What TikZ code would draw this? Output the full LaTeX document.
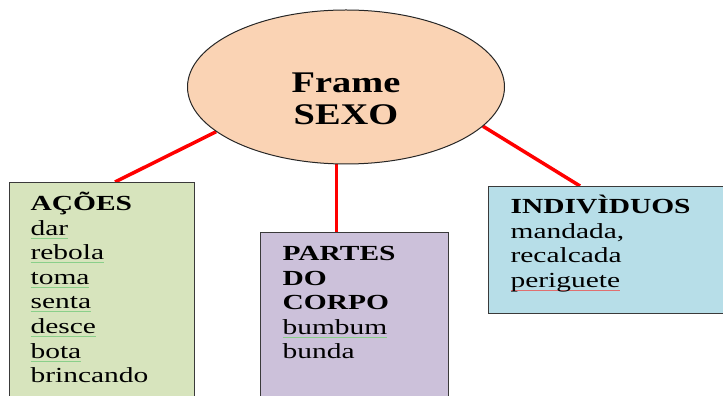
\documentclass[tikz,border=0pt]{standalone}
\usepackage{fontspec}
\setmainfont{Liberation Serif}[FakeStretch=1.37]
\newfontfamily\ellfont{Liberation Serif}[FakeStretch=1.28]
\usetikzlibrary{shapes.geometric,backgrounds}
\definecolor{peach}{HTML}{FAD3B4}
\definecolor{boxgreen}{HTML}{D7E4BD}
\definecolor{boxlilac}{HTML}{CCC1DA}
\definecolor{boxblue}{HTML}{B7DEE8}
\definecolor{sqgreen}{HTML}{8ACF8A}
\definecolor{sqred}{HTML}{E07070}
\definecolor{edgegray}{HTML}{3A3A3A}
\newsavebox\sqbox
\newcommand\sqline[2]{\leavevmode\sbox\sqbox{#2}\rlap{\textcolor{#1}{\rule[-3.4pt]{\wd\sqbox}{0.9pt}}}\usebox\sqbox}
\newcommand\sqg[1]{\sqline{sqgreen}{#1}}
\newcommand\sqr[1]{\sqline{sqred}{#1}}
\begin{document}
\begin{tikzpicture}[x=1pt,y=1pt,
  framebox/.style={draw=edgegray, line width=1.2pt, rectangle, anchor=north west,
    inner ysep=0pt, align=left, font=\fontsize{21.5}{24.6}\selectfont},
  link/.style={red, line width=3.5pt}]
\useasboundingbox (0,0) rectangle (723,396);
\node[ellipse, draw=black!85, line width=1pt, fill=peach, minimum width=317pt,
  minimum height=154pt, inner sep=0pt, align=center,
  font=\ellfont\bfseries\fontsize{30}{32}\selectfont] (ell) at (346,309)
  {\rule{0pt}{44pt}Frame\\SEXO};
\node[framebox, fill=boxgreen, inner xsep=21pt, text width=143pt] (acoes) at (9,214)
  {\rule{0pt}{28pt}\textbf{AÇÕES}\\
   \sqg{dar}\\
   \sqg{rebola}\\
   \sqg{toma}\\
   \sqg{senta}\\
   \sqg{desce}\\
   \sqg{bota}\\
   brincando\rule[-20pt]{0pt}{20pt}};
\node[framebox, fill=boxlilac, inner xsep=22pt, text width=144pt] (partes) at (260,164)
  {\rule{0pt}{28pt}\textbf{PARTES}\\
   \textbf{DO}\\
   \textbf{CORPO}\\
   \sqg{bumbum}\\
   bunda\rule[-50pt]{0pt}{50pt}};
\node[framebox, fill=boxblue, inner xsep=22pt, text width=208pt] (indiv) at (488,210)
  {\rule{0pt}{27pt}\textbf{INDIVÌDUOS}\\
   mandada,\\
   recalcada\\
   \sqr{periguete}\rule[-26pt]{0pt}{26pt}};
\coordinate (aT) at ([xshift=106pt]acoes.north west);
\coordinate (iT) at ([xshift=92pt]indiv.north west);
\begin{scope}[on background layer]
\draw[link] (ell.199) -- (aT);
\draw[link] (ell.263) -- (ell.263 |- partes.north);
\draw[link] (ell.344.5) -- (iT);
\end{scope}
\end{tikzpicture}
\end{document}
